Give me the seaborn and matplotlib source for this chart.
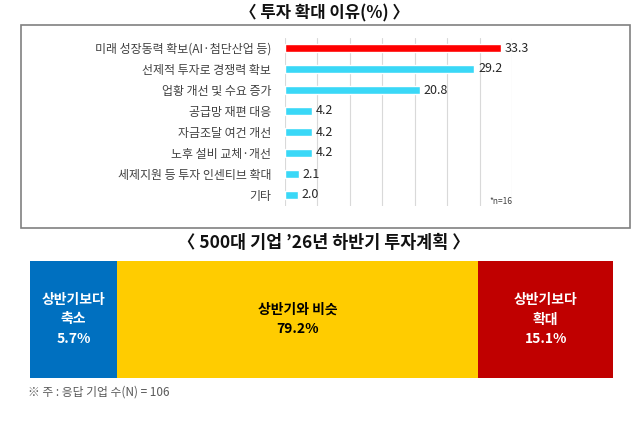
import matplotlib.pyplot as plt
import matplotlib.patches as mpatches
import pandas as pd
import seaborn as sns

# %% data
reasons = [
    "미래 성장동력 확보(AI·첨단산업 등)",
    "선제적 투자로 경쟁력 확보",
    "업황 개선 및 수요 증가",
    "공급망 재편 대응",
    "자금조달 여건 개선",
    "노후 설비 교체·개선",
    "세제지원 등 투자 인센티브 확대",
    "기타",
]
reason_pct = [33.3, 29.2, 20.8, 4.2, 4.2, 4.2, 2.1, 2.0]

plan_labels = ["상반기보다\n축소", "상반기와 비슷", "상반기보다\n확대"]
plan_pct = [5.7, 79.2, 15.1]
# segment widths as drawn in the original (the graphic is not to scale)
plan_shown = [15.0, 61.9, 23.1]

# %% style
sns.set_style("white")
plt.rcParams["font.family"] = ["Noto Sans CJK KR", "DejaVu Sans"]

W, H = 640, 426
fig = plt.figure(figsize=(W / 100, H / 100), dpi=100)


def px_axes(x0, y0, x1, y1):
    return fig.add_axes([x0 / W, 1 - y1 / H, (x1 - x0) / W, (y1 - y0) / H])


# %% top panel: reasons
fig.text(324 / W, 1 - 13 / H, "〈 투자 확대 이유(%) 〉", ha="center", va="center",
         fontsize=12, fontweight="bold", color="#111111")
fig.patches.append(mpatches.Rectangle((21 / W, 1 - 228 / H), 609 / W, 203 / H,
                                      transform=fig.transFigure, fill=False,
                                      edgecolor="#808080", linewidth=1.2))

df = pd.DataFrame({"reason": reasons, "pct": reason_pct})
bar_colors = ["#FF0000"] + ["#3AD8F7"] * (len(reasons) - 1)

ax = px_axes(285, 37.5, 512, 205.5)
sns.barplot(data=df, x="pct", y="reason", hue="reason", palette=bar_colors,
            legend=False, width=0.42, orient="h", ax=ax, saturation=1)
ax.set_xlim(0, 35)
ax.set_xticks(range(0, 36, 5))
ax.grid(axis="x", color="#D9D9D9", linewidth=0.8)
ax.set_axisbelow(True)
ax.tick_params(axis="x", length=0, labelbottom=False)
ax.tick_params(axis="y", length=0, pad=10, labelsize=8.6, labelcolor="#404040")
for s in ax.spines.values():
    s.set_visible(False)
ax.set_xlabel("")
ax.set_ylabel("")
for i, v in enumerate(reason_pct):
    ax.text(v + 0.6, i, f"{v:.1f}", va="center", ha="left", fontsize=9, color="#262626")
ax.text(1.0, 0.0, "*n=16", transform=ax.transAxes, ha="right", va="bottom",
        fontsize=6, color="#404040")

# %% bottom panel: plan
fig.text(324 / W, 1 - 243 / H, "〈 500대 기업 ’26년 하반기 투자계획 〉", ha="center",
         va="center", fontsize=12.5, fontweight="bold", color="#111111")

ax2 = px_axes(30, 261, 613, 378)
seg_colors = ["#0070C0", "#FFCC00", "#C00000"]
txt_colors = ["white", "black", "white"]
left = 0
for lab, pct, w, c, tc in zip(plan_labels, plan_pct, plan_shown, seg_colors, txt_colors):
    ax2.barh(0, w, left=left, height=1, color=c, edgecolor="none")
    ax2.text(left + w / 2, 0, f"{lab}\n{pct:.1f}%", ha="center", va="center",
             fontsize=10, fontweight="bold", color=tc, linespacing=1.5)
    left += w
ax2.set_xlim(0, sum(plan_shown))
ax2.set_ylim(-0.5, 0.5)
ax2.axis("off")

fig.text(28 / W, 1 - 392 / H, "※ 주 : 응답 기업 수(N) = 106", ha="left", va="center",
         fontsize=8.5, color="#595959")

fig.savefig("out.png", dpi=100)
